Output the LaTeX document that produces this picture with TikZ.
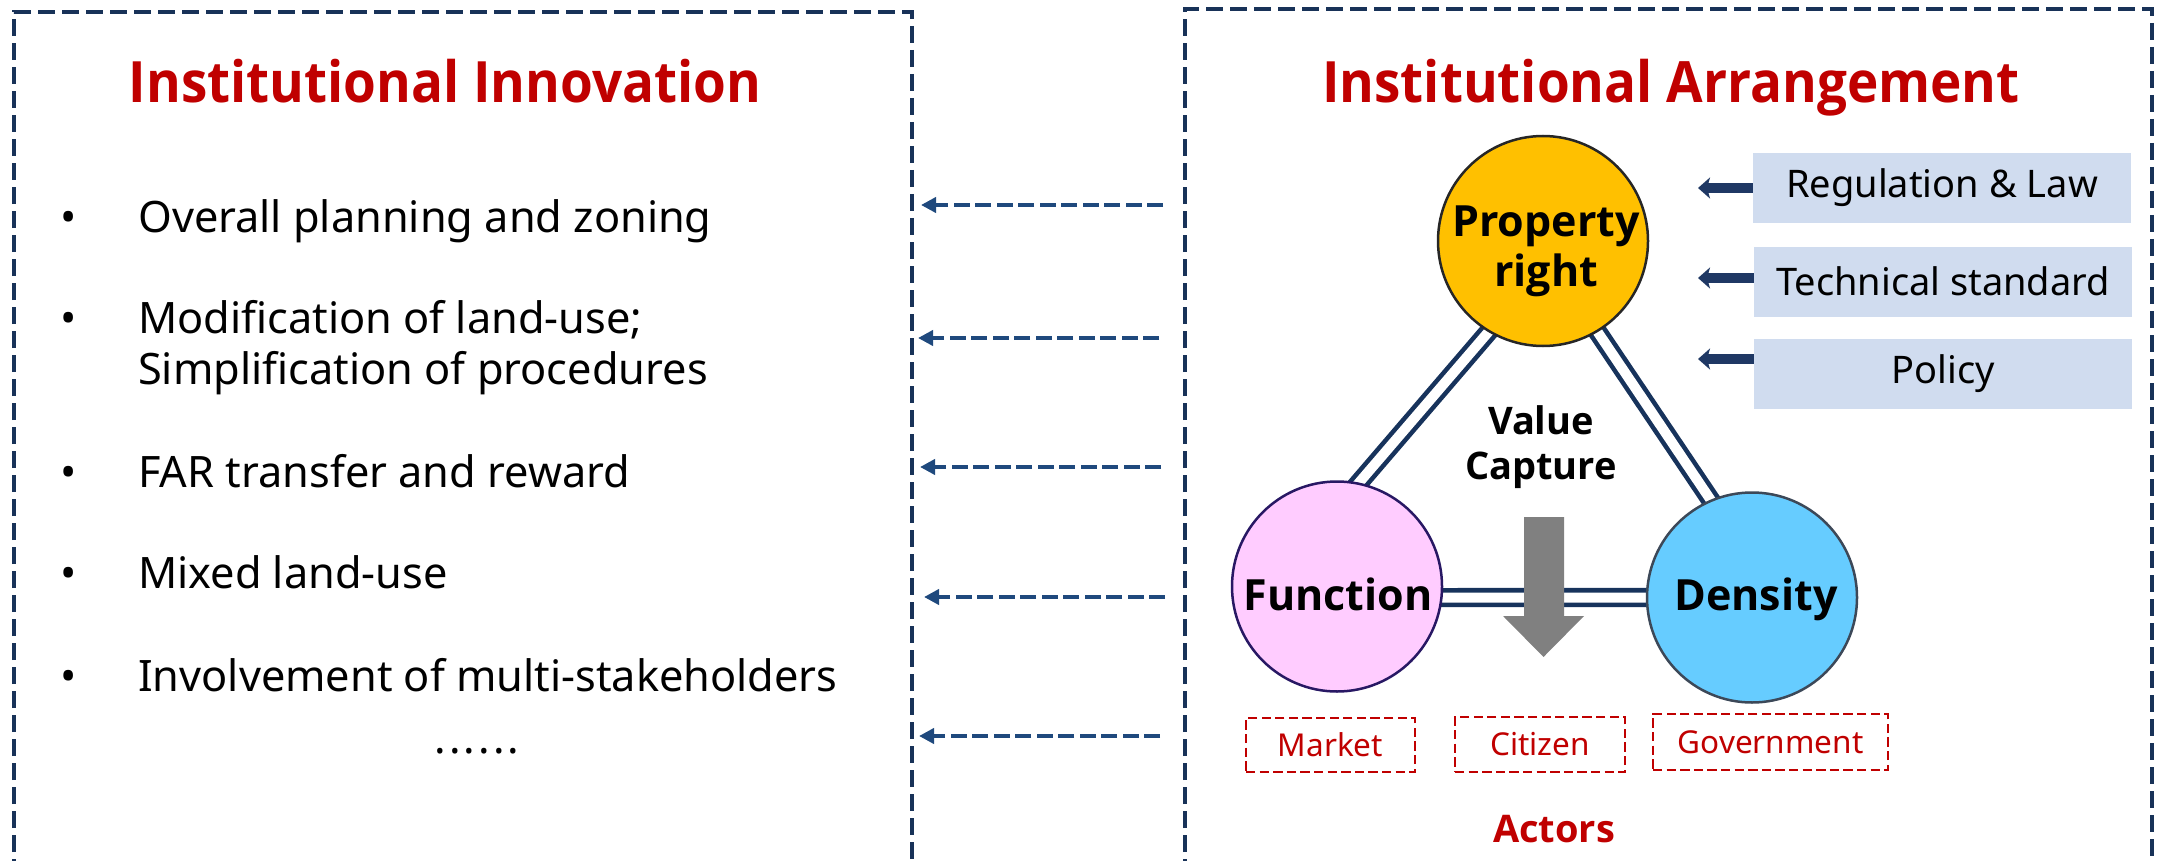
\documentclass[tikz,border=0pt]{standalone}
\usepackage{fontspec}
\setmainfont{Noto Sans}
\newfontfamily\bfnt{Open Sans}[FakeStretch=0.93]
\newfontfamily\bfntw{Open Sans}
\usetikzlibrary{arrows.meta,backgrounds,calc}
\definecolor{navy}{RGB}{24,50,88}
\definecolor{arrblue}{RGB}{31,73,125}
\definecolor{tred}{RGB}{192,0,0}
\definecolor{gold}{RGB}{255,192,0}
\definecolor{pinkf}{RGB}{255,204,255}
\definecolor{skyf}{RGB}{102,204,255}
\definecolor{boxblue}{RGB}{208,220,239}
\definecolor{dline}{RGB}{23,51,92}
\definecolor{capgray}{RGB}{128,128,128}
\definecolor{smarrow}{RGB}{31,56,100}
\newcommand{\fs}[1]{\fontsize{#1}{1.2\dimexpr#1pt\relax}\selectfont}
\newcommand{\bfs}[1]{\bfnt\bfseries\fontsize{#1}{1.2\dimexpr#1pt\relax}\selectfont}
\newcommand{\bfw}[2]{\bfntw\bfseries\fontsize{#1}{#2}\selectfont}
\tikzset{
  outerbox/.style={draw=navy, line width=4pt, dash pattern=on 17pt off 7pt},
  title/.style={font=\bfs{57}, text=tred, anchor=base, inner sep=0},
  itemtxt/.style={font=\fs{43.3}, anchor=base west, inner sep=0},
  bullettxt/.style={font=\fs{43.3}, anchor=base, inner sep=0},
  dasharrow/.style={draw=arrblue, line width=4pt, dash pattern=on 16pt off 5.5pt,
    -{Triangle[length=15pt,width=15pt]}},
  ball/.style={circle, minimum size=210pt, inner sep=0, line width=2.5pt},
  balltxt/.style={font=\bfw{43}{50}, anchor=base, inner sep=0},
  dbl/.style={draw=dline, line width=4.6pt, double=white, double distance=10pt,
    shorten <=-10pt, shorten >=-10pt},
  bluebox/.style={fill=boxblue, minimum width=378pt, minimum height=70pt, inner sep=0,
    font=\fs{38}},
  smallarrow/.style={draw=smarrow, line width=10.6pt,
    -{Stealth[length=12pt,width=21pt,inset=3pt]}},
  actorbox/.style={draw=tred, line width=2.7pt, dash pattern=on 9.3pt off 4.3pt,
    text=tred, font=\fs{31.5}, inner sep=0},
}
\begin{document}
\begin{tikzpicture}[x=1pt,y=-1pt]
\useasboundingbox (0,0) rectangle (2162,861);
\clip (0,0) rectangle (2162,861);

% outer dashed panels
\draw[outerbox] (14,900) -- (14,12) -- (912,12) -- (912,900);
\draw[outerbox] (1185,900) -- (1185,9) -- (2152,9) -- (2152,900);

% titles
\node[title] (t1) at (445,103) {Institutional Innovation};
\node[title] (t2) at (1671,103) {Institutional Arrangement};

% left list
\node[bullettxt] (b1) at (69,232) {•};
\node[itemtxt] (i1) at (138,232) {Overall planning and zoning};
\node[bullettxt] (b2) at (69,333) {•};
\node[itemtxt] (i2) at (138,333) {Modification of land-use;};
\node[itemtxt] (i2b) at (138,384) {Simplification of procedures};
\node[bullettxt] (b3) at (69,487) {•};
\node[itemtxt] (i3) at (138,487) {FAR transfer and reward};
\node[bullettxt] (b4) at (69,588) {•};
\node[itemtxt] (i4) at (138,588) {Mixed land-use};
\node[bullettxt] (b5) at (69,691) {•};
\node[itemtxt] (i5) at (138,691) {Involvement of multi-stakeholders};
\node[bullettxt] (dots) at (477,753) {.\kern3pt.\kern3pt.\kern3pt.\kern3pt.\kern3pt.};

% dashed arrows between panels
\coordinate (s1) at (1163,205); \coordinate (e1) at (921,205);
\coordinate (s2) at (1159,338); \coordinate (e2) at (918,338);
\coordinate (s3) at (1161,467); \coordinate (e3) at (920,467);
\coordinate (s4) at (1165,597); \coordinate (e4) at (924,597);
\coordinate (s5) at (1160,736); \coordinate (e5) at (919,736);
\foreach \k in {1,...,5} \draw[dasharrow] (s\k) -- (e\k);

% circles
\node[ball, fill=gold, draw={rgb,255:red,38;green,38;blue,38}] (prop) at (1543,241) {};
\node[ball, fill=pinkf, draw={rgb,255:red,40;green,24;blue,100}] (func) at (1337,586.5) {};
\node[ball, fill=skyf, draw={rgb,255:red,60;green,72;blue,88}] (den) at (1752,597.5) {};

\begin{scope}[on background layer]
  \draw[dbl] (prop.239) -- (func.78);
  \draw[dbl] (prop.301) -- (den.113);
  \draw[dbl] (func.-6) -- (den.180);
\end{scope}

\node[font=\bfw{43}{50}, align=center, inner sep=0] (proptxt) at (1546,251) {Property\\right};
\node[balltxt] (functxt) at (1338,610) {Function};
\node[balltxt] (dentxt) at (1756,610) {Density};

% value capture arrow
\fill[capgray] (1524,517) -- (1564,517) -- (1564,616) -- (1584,616) -- (1543.5,657)
  -- (1503,616) -- (1524,616) -- cycle;
\node[font=\bfw{38}{45}, align=center, inner sep=0] (vc) at (1541,447) {Value\\Capture};

% blue boxes
\node[bluebox] (r1) at (1942,188) {Regulation \& Law};
\node[bluebox] (r2) at (1943,281.5) {Technical standard};
\node[bluebox] (r3) at (1943,374) {Policy};
\coordinate (a1) at (1698,188);
\coordinate (a2) at (1698,278);
\coordinate (a3) at (1698,359);
\draw[smallarrow] (r1.west) -- (a1);
\draw[smallarrow] (r2.west |- a2) -- (a2);
\draw[smallarrow] (r3.west |- a3) -- (a3);

% actors
\node[actorbox, minimum width=169pt, minimum height=54pt] (m) at (1330.5,745) {Market};
\node[actorbox, minimum width=170pt, minimum height=55pt] (c) at (1540,744.5) {Citizen};
\node[actorbox, minimum width=235pt, minimum height=56pt] (g) at (1770.5,742) {Government};
\node[font=\bfw{38}{45}, text=tred, anchor=base, inner sep=0] (act) at (1554,842) {Actors};
\end{tikzpicture}
\end{document}
